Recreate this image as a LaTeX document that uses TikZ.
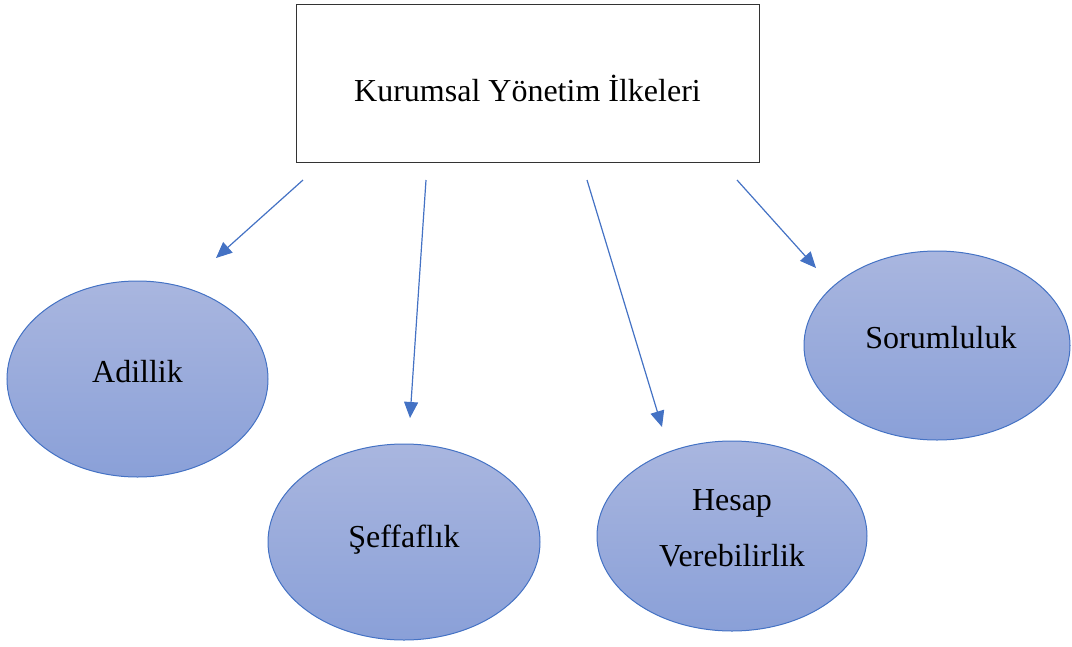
\documentclass[tikz,border=0pt]{standalone}
\usepackage{fontspec}
\setmainfont{Liberation Serif}
\usetikzlibrary{arrows.meta,shapes.geometric}
\definecolor{edgeblue}{HTML}{4472C4}
\definecolor{filltop}{HTML}{A9B6DF}
\definecolor{fillbot}{HTML}{8AA0D8}
\tikzset{
  txt/.style={font=\fontsize{32}{56}\selectfont},
  titlebox/.style={draw=black!80, line width=1pt, minimum width=463pt, minimum height=158pt, inner sep=0pt},
  bubble/.style={ellipse, draw=edgeblue, line width=1pt, top color=filltop, bottom color=fillbot, inner sep=0pt},
  link/.style={draw=edgeblue, line width=1.2pt, -{Triangle[length=16pt,width=14pt]}}
}
\begin{document}
\begin{tikzpicture}[x=1pt,y=-1pt]
\useasboundingbox (0,0) rectangle (1072,646);
\node[titlebox] (root) at (527.5,83) {};
\node[txt] (rootlabel) at (527.5,88) {Kurumsal Yönetim İlkeleri};
\node[bubble, minimum width=261pt, minimum height=196pt] (adil) at (137.5,379) {};
\node[txt] (adillabel) at (137.5,372) {Adillik};
\node[bubble, minimum width=272pt, minimum height=196pt] (seff) at (404,542) {};
\node[txt] (sefflabel) at (404,540) {Şeffaflık};
\node[bubble, minimum width=270pt, minimum height=190pt] (hesap) at (732,536) {};
\node[txt, align=center] (hesaplabel) at (732,528) {Hesap\\Verebilirlik};
\node[bubble, minimum width=266pt, minimum height=189pt] (sorum) at (937,345.5) {};
\node[txt] (sorumlabel) at (941,338) {Sorumluluk};
% arrow ends sit just below the box and just above each bubble
\coordinate (s1) at (303,180); \coordinate (e1) at (216,258);
\coordinate (s2) at (426,180); \coordinate (e2) at (410,418);
\coordinate (s3) at (587,180); \coordinate (e3) at (662,427);
\coordinate (s4) at (737,180); \coordinate (e4) at (816,268);
\draw[link] (s1) -- (e1);
\draw[link] (s2) -- (e2);
\draw[link] (s3) -- (e3);
\draw[link] (s4) -- (e4);
\end{tikzpicture}
\end{document}
